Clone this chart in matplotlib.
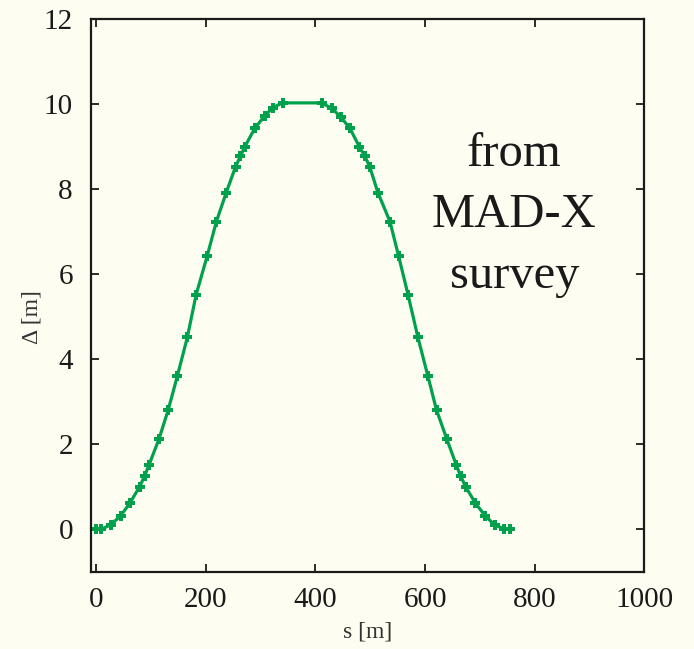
import numpy as np
import matplotlib
matplotlib.use('Agg')
import matplotlib.pyplot as plt

# survey points
s = [0, 8, 26, 44, 61, 79, 88, 96, 114, 131, 148, 166, 182, 202, 219, 237,
     254, 263, 271, 289, 307, 322, 340, 411, 430, 446, 463, 480, 490, 499,
     514, 536, 552, 569, 587, 605, 621, 640, 657, 665, 674, 692, 710, 727,
     745, 755]
delta = [0.0, 0.0, 0.11, 0.32, 0.62, 1.01, 1.26, 1.52, 2.12, 2.81, 3.62, 4.52,
         5.52, 6.42, 7.24, 7.92, 8.53, 8.78, 9.0, 9.43, 9.72, 9.92, 10.03,
         10.03, 9.9, 9.7, 9.43, 9.0, 8.78, 8.53, 7.92, 7.24, 6.42, 5.52,
         4.52, 3.62, 2.81, 2.12, 1.52, 1.26, 1.01, 0.62, 0.32, 0.11, 0.01, 0.0]

bg = '#fdfdf1'
green = '#00a04c'
plt.rcParams['font.family'] = ['Liberation Serif', 'DejaVu Serif']

fig = plt.figure(figsize=(6.94, 6.49), dpi=100, facecolor=bg)
ax = fig.add_axes([0.1311, 0.1186, 0.7969, 0.852])
ax.set_facecolor(bg)

ax.plot(s, delta, color=green, lw=2.3, marker='P', ms=7.5, mew=0,
        mfc=green, mec=green)

ax.set_xlim(-10, 1000)
ax.set_ylim(-1, 12)
ax.set_xticks([0, 200, 400, 600, 800, 1000])
ax.set_yticks([0, 2, 4, 6, 8, 10, 12])
ax.tick_params(direction='in', length=6, width=1.3, top=True, right=True,
               labelsize=21, colors='#1a1a1a')
ax.tick_params(axis='x', pad=11)
ax.tick_params(axis='y', pad=13)
for sp in ax.spines.values():
    sp.set_linewidth(1.6)
    sp.set_color('#1a1a1a')

ax.set_xlabel('s [m]', fontsize=17, color='#333333', labelpad=6)
ax.set_ylabel('Δ [m]', fontsize=17, color='#333333')
ax.yaxis.set_label_coords(-0.088, 0.462)

ax.text(763, 7.4, 'from\nMAD-X\nsurvey', ha='center', va='center',
        fontsize=35, color='#1a1a1a', linespacing=1.5)

fig.savefig('out.png', dpi=100, facecolor=bg)
